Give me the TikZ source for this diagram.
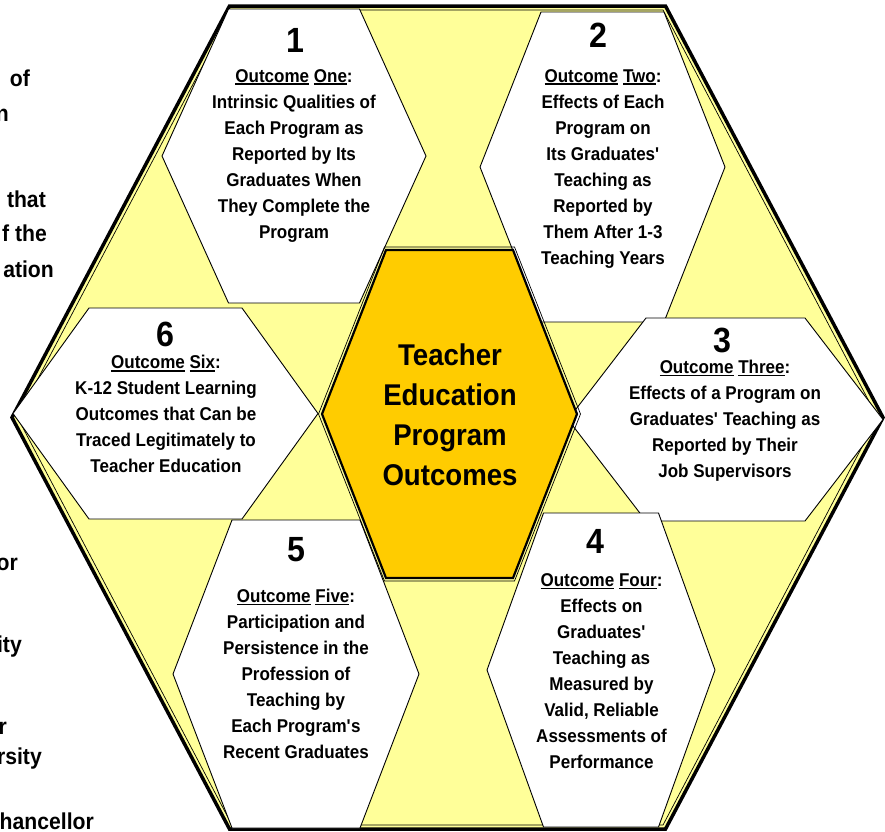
\documentclass[tikz,border=0pt]{standalone}
\usepackage{fontspec}
\setmainfont{Liberation Sans}[FakeStretch=0.92]
\definecolor{paleyellow}{HTML}{FFFF99}
\definecolor{goldhex}{HTML}{FFCC00}
% hexagon: style, centre x, centre y, half width, half flat side, half height
\newcommand{\hexa}[6]{\path[#1] (#2-#4,#3) -- (#2-#5,#3-#6) -- (#2+#5,#3-#6) -- (#2+#4,#3) -- (#2+#5,#3+#6) -- (#2-#5,#3+#6) -- cycle;}
\newcommand{\undl}[1]{\setbox0=\hbox{#1}\rlap{\rule[-3pt]{\wd0}{1.6pt}}\box0\relax}
\newcommand{\q}{\textquotesingle}

\begin{document}
\begin{tikzpicture}[x=1pt,y=-1pt,
	outerhex/.style={fill=paleyellow, draw=black, line width=3.5pt},
	innerhex/.style={draw=black, line width=0.7pt},
	whitehex/.style={fill=white, draw=black, line width=0.9pt},
	centerhex/.style={fill=goldhex, draw=black, line width=2.2pt},
	numtext/.style={font=\bfseries\fontsize{35}{40}\selectfont, inner sep=0pt},
	outtext/.style={font=\bfseries\fontsize{18.5}{26}\selectfont, align=center, inner sep=0pt},
	maintext/.style={font=\bfseries\fontsize{30}{40}\selectfont, align=center, inner sep=0pt},
	sidetext/.style={font=\bfseries\fontsize{23}{30}\selectfont, anchor=base east, inner sep=0pt}]
	\useasboundingbox (0,0) rectangle (885,831);
	% frame
	\hexa{outerhex}{447.5}{417.5}{435.5}{218}{411.5}
	\hexa{innerhex}{447.5}{417.5}{430}{215.5}{407.5}
	% outcome cells
	\hexa{whitehex}{294}{156}{132}{65.5}{147}
	\hexa{whitehex}{602.5}{167}{122.5}{61.5}{155}
	\hexa{whitehex}{725.5}{419.5}{157.5}{79.5}{101.5}
	\hexa{whitehex}{601}{670}{114}{57.5}{157}
	\hexa{whitehex}{296}{674}{123}{64}{154}
	\hexa{whitehex}{165.5}{413.5}{152.5}{76.5}{105.5}
	% centre
	\hexa{innerhex}{449.5}{414}{131}{65}{167}
	\hexa{centerhex}{449.5}{414}{127.5}{63.5}{164}
	\node[maintext] (core) at (450,414.5) {Teacher\\Education\\Program\\Outcomes};
	\node[numtext] (num1) at (295,40) {1};
	\node[outtext] (out1) at (294,155.5) {\undl{Outcome} \undl{One}:\\Intrinsic Qualities of\\Each Program as\\Reported by Its\\Graduates When\\They Complete the\\Program};
	\node[numtext] (num2) at (598,35) {2};
	\node[outtext] (out2) at (603,168.5) {\undl{Outcome} \undl{Two}:\\Effects of Each\\Program on\\Its Graduates\q\\Teaching as\\Reported by\\Them After 1-3\\Teaching Years};
	\node[numtext] (num3) at (722,340) {3};
	\node[outtext] (out3) at (725,420.5) {\undl{Outcome} \undl{Three}:\\Effects of a Program on\\Graduates\q{} Teaching as\\Reported by Their\\Job Supervisors};
	\node[numtext] (num4) at (595,541) {4};
	\node[outtext] (out4) at (601.5,671) {\undl{Outcome} \undl{Four}:\\Effects on\\Graduates\q\\Teaching as\\Measured by\\Valid, Reliable\\Assessments of\\Performance};
	\node[numtext] (num5) at (296,550) {5};
	\node[outtext] (out5) at (296,673.5) {\undl{Outcome} \undl{Five}:\\Participation and\\Persistence in the\\Profession of\\Teaching by\\Each Program\q s\\Recent Graduates};
	\node[numtext] (num6) at (165,334) {6};
	\node[outtext] (out6) at (166,414) {\undl{Outcome} \undl{Six}:\\K-12 Student Learning\\Outcomes that Can be\\Traced Legitimately to\\Teacher Education};
	% cut-off text at the left edge
	\node[sidetext] (side1) at (30,86) {of};
	\node[sidetext] (side2) at (9,121) {n};
	\node[sidetext] (side3) at (46,207) {that};
	\node[sidetext] (side4) at (47,241) {f the};
	\node[sidetext] (side5) at (54,277) {ation};
	\node[sidetext] (side6) at (18,570) {or};
	\node[sidetext] (side7) at (22,652) {ity};
	\node[sidetext] (side8) at (7,734) {r};
	\node[sidetext] (side9) at (42,764) {rsity};
	\node[sidetext] (side10) at (94,829) {Chancellor};
\end{tikzpicture}
\end{document}
